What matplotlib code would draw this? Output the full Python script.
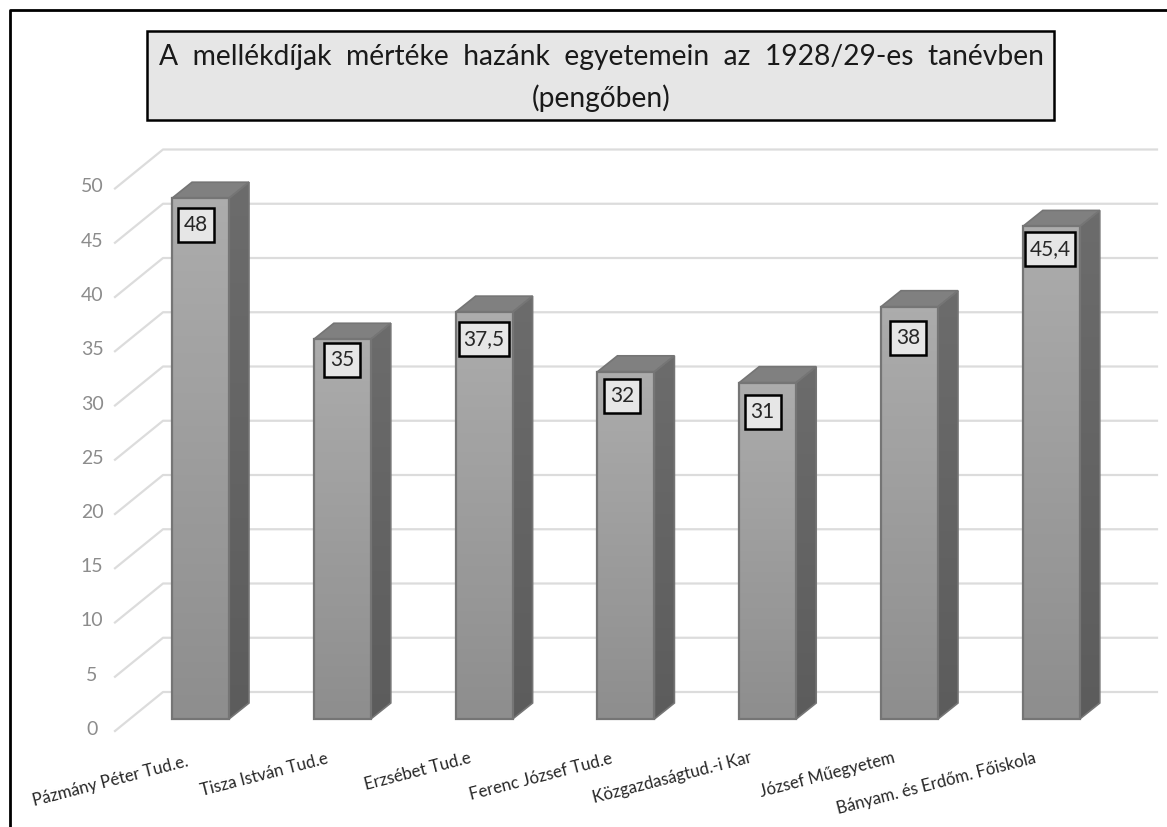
import matplotlib
matplotlib.use('Agg')
import matplotlib.pyplot as plt
import numpy as np
from matplotlib.patches import Polygon, Rectangle

schools = ['Pázmány Péter Tud.e.', 'Tisza István Tud.e', 'Erzsébet Tud.e',
           'Ferenc József Tud.e', 'Közgazdaságtud.-i Kar', 'József Műegyetem',
           'Bányam. és Erdőm. Főiskola']
fees = [48, 35, 37.5, 32, 31, 38, 45.4]
fee_labels = ['48', '35', '37,5', '32', '31', '38', '45,4']
y_ticks = [0, 5, 10, 15, 20, 25, 30, 35, 40, 45, 50]

plt.rcParams['font.family'] = ['Lato', 'DejaVu Sans']

# one axes over the whole figure, scaled so that a category step is 141.8 px
# and one pengo is 10.85 px, with 0 at pixel row 719
X_STEP = 141.8
Y_STEP = 10.85
W, H = 1167, 827


def dx(px):
    return px / X_STEP


def dy(px):
    return px / Y_STEP


fig = plt.figure(figsize=(W / 100, H / 100), dpi=100)
ax = fig.add_axes([0, 0, 1, 1])
ax.set_xlim(-200.5 / X_STEP, (W - 200.5) / X_STEP)
ax.set_ylim(-(H - 719) / Y_STEP, 719 / Y_STEP)
ax.axis('off')

# pseudo 3d grid: front edge, back edge, then along the back wall
for v in y_ticks:
    ax.plot([dx(115 - 200.5), dx(163 - 200.5), dx(1157 - 200.5)],
            [v - dy(12), v + dy(27), v + dy(27)],
            color='#dcdcdc', lw=1.6, zorder=1)
    ax.text(dx(92 - 200.5), v - dy(10.5), str(v), color='#8c8c8c', fontsize=14,
            ha='center', va='center', zorder=2)

bar_width = dx(57)
depth_x, depth_y = dx(20), dy(16)
grad = np.linspace(0, 1, 64).reshape(-1, 1)
front_cmap = matplotlib.colors.LinearSegmentedColormap.from_list('f', ['#8e8e8e', '#acacac'])
side_cmap = matplotlib.colors.LinearSegmentedColormap.from_list('s', ['#5c5c5c', '#6c6c6c'])

for i, v in enumerate(fees):
    left = i - bar_width / 2
    right = i + bar_width / 2
    side = Polygon([(right, 0), (right + depth_x, depth_y),
                    (right + depth_x, v + depth_y), (right, v)],
                   facecolor='none', edgecolor='#757575', lw=1.2, zorder=4)
    top = Polygon([(left, v), (left + depth_x, v + depth_y),
                   (right + depth_x, v + depth_y), (right, v)],
                  facecolor='#808080', edgecolor='#757575', lw=1.2, zorder=4)
    ax.add_patch(top)
    im = ax.imshow(grad, cmap=side_cmap, origin='lower', aspect='auto', zorder=3,
                   extent=(right, right + depth_x, 0, v + depth_y))
    im.set_clip_path(Polygon(side.get_xy(), transform=ax.transData))
    ax.add_patch(side)
    im = ax.imshow(grad, cmap=front_cmap, origin='lower', aspect='auto', zorder=5,
                   extent=(left, right, 0, v))
    ax.add_patch(Rectangle((left, 0), bar_width, v, facecolor='none',
                           edgecolor='#757575', lw=1.6, zorder=6))

# data labels were placed by hand in the original, so each has its own shift
label_shift_x = [-4.5, -0.5, 0, -4, -5, -1, -1]
label_shift_y = [27, 21, 27, 24, 29, 31, 23]
for i, v in enumerate(fees):
    box_w = 50 if ',' in fee_labels[i] else 36
    cx = i + dx(label_shift_x[i])
    cy = v - dy(label_shift_y[i])
    ax.add_patch(Rectangle((cx - dx(box_w / 2), cy - dy(17)), dx(box_w), dy(34),
                           facecolor='#e6e6e6', edgecolor='black', lw=1.8, zorder=7))
    ax.text(cx, cy, fee_labels[i], color='#262626', fontsize=15,
            ha='center', va='center', zorder=8)

# rotated category labels, anchored at their right end
label_end_x = [188, 328, 471, 612, 752, 895, 1036]
label_end_y = [761, 758, 758, 758, 757, 757, 758]
for i, name in enumerate(schools):
    ax.text(dx(label_end_x[i] - 200.5), dy(719 - label_end_y[i]), name,
            color='#262626', fontsize=12.1, rotation=14.5, rotation_mode='anchor',
            ha='right', va='center', zorder=3)

# title box
ax.add_patch(Rectangle((dx(147 - 200.5), dy(719 - 120)), dx(907), dy(89),
                       facecolor='#e6e6e6', edgecolor='black', lw=1.8, zorder=9))
ax.text(dx(601 - 200.5), dy(719 - 57), 'A  mellékdíjak  mértéke  hazánk  egyetemein  az  1928/29-es  tanévben',
        color='#1a1a1a', fontsize=20.3, ha='center', va='center', zorder=10)
ax.text(dx(601 - 200.5), dy(719 - 98), '(pengőben)',
        color='#1a1a1a', fontsize=20.3, ha='center', va='center', zorder=10)

# outer frame: only the top and left edges are inside the crop
ax.plot([dx(9.5 - 200.5), dx(9.5 - 200.5), dx(W - 200.5)],
        [dy(719 - H), dy(719 - 10), dy(719 - 10)], color='black', lw=2, zorder=11)

fig.savefig('out.png', dpi=100)
